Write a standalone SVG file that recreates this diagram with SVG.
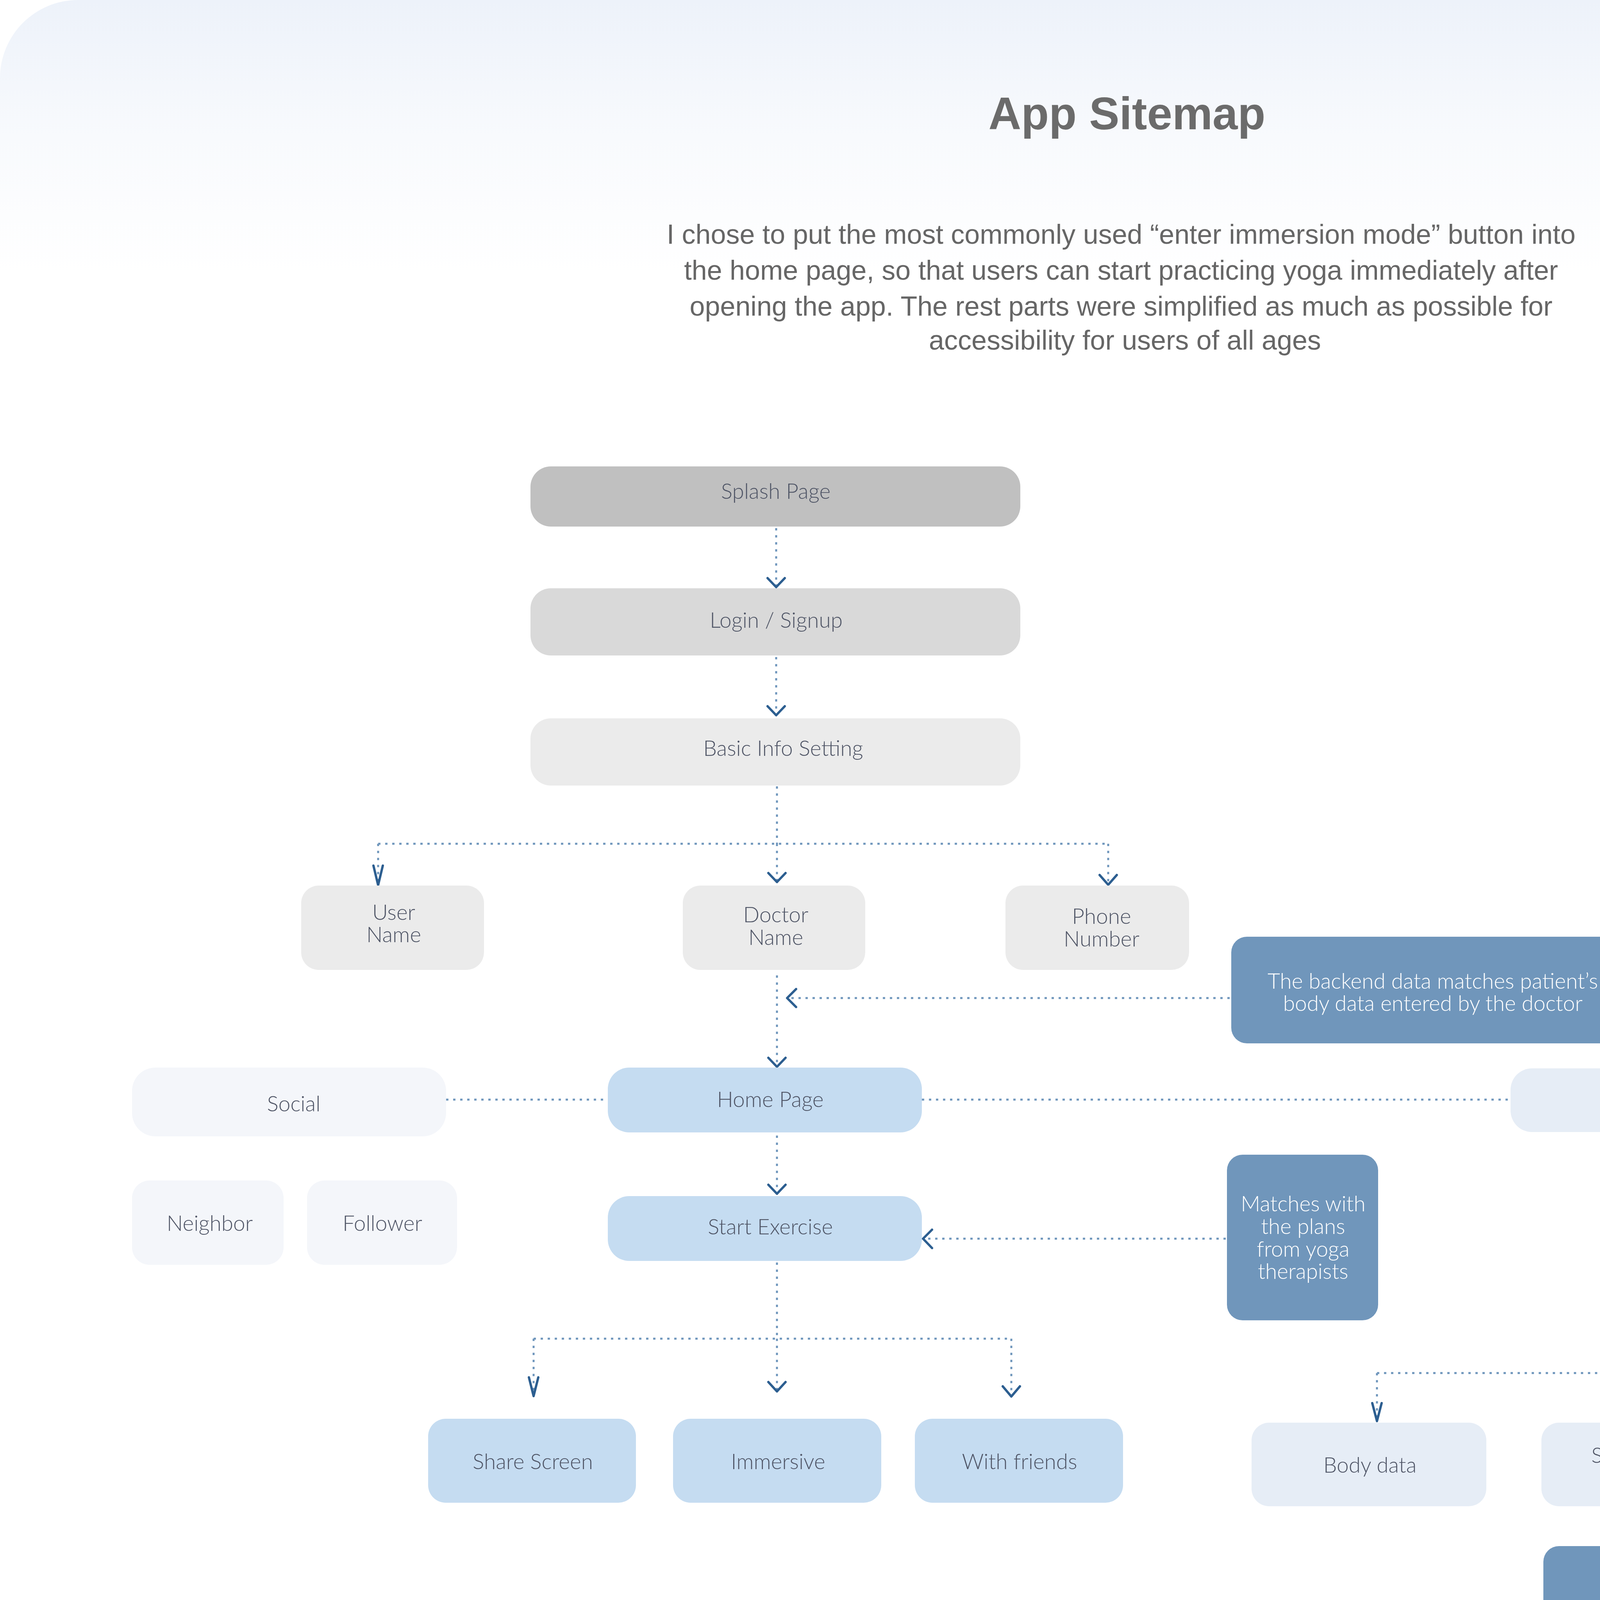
<svg xmlns="http://www.w3.org/2000/svg" width="5760" height="4719" viewBox="0 0 5760 4719">
<defs>
<linearGradient id="bg" x1="0" y1="0" x2="0" y2="700" gradientUnits="userSpaceOnUse">
<stop offset="0" stop-color="#edf2fa"/>
<stop offset="0.5" stop-color="#f8fafd"/>
<stop offset="1" stop-color="#ffffff"/>
</linearGradient>
<style>
.ln{fill:none;stroke:#6f96bc;stroke-width:5;stroke-dasharray:6 12}
.ch{fill:none;stroke:#2c5e90;stroke-width:6;stroke-linecap:round;stroke-linejoin:round}
.t{font-family:Lato,"Open Sans","Noto Sans",sans-serif;font-weight:300;font-size:55px;fill:#4e5465;text-anchor:middle}
.w{fill:#ffffff}
.g1{fill:#c0c0c0}.g2{fill:#d9d9d9}.g3{fill:#ebebeb}
.b1{fill:#c5dcf1}.b2{fill:#e6edf6}.b3{fill:#f4f6fa}.dk{fill:#7096bb}
.title{font-family:"Liberation Sans",Arial,sans-serif;font-weight:bold;font-size:116px;fill:#6b6b6b;text-anchor:middle}
.para{font-family:"Liberation Sans",Arial,sans-serif;font-size:70px;fill:#666666;text-anchor:middle}
</style>
</defs>
<rect x="0" y="0" width="5760" height="4719" fill="#ffffff"/>
<rect x="0" y="0" width="5760" height="4719" rx="200" ry="200" fill="url(#bg)"/>

<g id="header">
<text class="title" x="2885" y="331">App Sitemap</text>
<text class="para" x="2870" y="624">I chose to put the most commonly used “enter immersion mode” button into<tspan x="2870" dy="92">the home page, so that users can start practicing yoga immediately after</tspan><tspan x="2870" dy="92">opening the app. The rest parts were simplified as much as possible for</tspan><tspan x="2880" dy="87">accessibility for users of all ages</tspan></text>
</g>

<g id="connectors">
<path class="ln" d="M1987 1352V1498"/>
<path class="ch" d="M1965 1480L1987 1503L2009 1480"/>
<path class="ln" d="M1987 1682V1826"/>
<path class="ch" d="M1965 1808L1987 1831L2009 1808"/>
<path class="ln" d="M1989 2013V2160M968 2160H2837M968 2160V2262M1989 2160V2254M2837 2160V2261"/>
<path class="ch" d="M956 2216L968 2266L980 2216"/>
<path class="ch" d="M1967 2235L1989 2258L2011 2235"/>
<path class="ch" d="M2815 2240L2837 2265L2859 2240"/>
<path class="ln" d="M1989 2497V2726"/>
<path class="ch" d="M1967 2708L1989 2731L2011 2708"/>
<path class="ln" d="M3148 2555H2024"/>
<path class="ch" d="M2038 2532L2015 2555L2038 2578"/>
<path class="ln" d="M1142 2815H1556M2360 2815H3867"/>
<path class="ln" d="M1989 2907V3053"/>
<path class="ch" d="M1967 3033L1989 3056L2011 3033"/>
<path class="ln" d="M3138 3171H2370"/>
<path class="ch" d="M2386 3148L2363 3171L2386 3195"/>
<path class="ln" d="M1989 3232V3427M1366 3427H2589M1366 3427V3570M1989 3427V3558M2589 3427V3570"/>
<path class="ch" d="M1354 3526L1366 3574L1378 3526"/>
<path class="ch" d="M1967 3538L1989 3562L2011 3538"/>
<path class="ch" d="M2567 3549L2589 3575L2611 3549"/>
<path class="ln" d="M4266 2907V3515M3525 3515H5125M3525 3515V3634M4266 3515V3634M5125 3515V3634"/>
<path class="ch" d="M3513 3592L3525 3638L3537 3592"/>
<path class="ch" d="M4245 3614L4266 3638L4287 3614"/>
<path class="ch" d="M5104 3612L5125 3638L5146 3612"/>
<path class="ln" d="M4276 3866V3943"/>
<path class="ch" d="M4255 3921L4276 3947L4297 3921"/>
<path class="ln" d="M4250 4174V4207M4057 4207H4455M4057 4207V4295M4455 4207V4295"/>
<path class="ch" d="M4044 4251L4057 4299L4070 4251"/>
<path class="ch" d="M4433 4273L4455 4299L4477 4273"/>
<path class="ln" d="M5103 3866V3930M4868 3930H5325M4868 3930V4018M5325 3930V4018"/>
<path class="ch" d="M4855 3980L4868 4022L4881 3980"/>
<path class="ch" d="M5303 3996L5325 4022L5347 3996"/>
</g>

<g id="splash"><rect class="g1" x="1358" y="1194" width="1254" height="154" rx="52"/><text class="t" x="1986" y="1277">Splash Page</text></g>
<g id="login"><rect class="g2" x="1358" y="1506" width="1254" height="172" rx="52"/><text class="t" x="1987" y="1607">Login / Signup</text></g>
<g id="basic-info"><rect class="g3" x="1358" y="1839" width="1254" height="172" rx="52"/><text class="t" x="2005" y="1935">Basic Info Setting</text></g>

<g id="user-name"><rect class="g3" x="771" y="2267" width="468" height="216" rx="45"/><text class="t" x="1008" y="2355">User<tspan x="1008" dy="57">Name</tspan></text></g>
<g id="doctor-name"><rect class="g3" x="1748" y="2267" width="467" height="216" rx="45"/><text class="t" x="1986" y="2361">Doctor<tspan x="1986" dy="58">Name</tspan></text></g>
<g id="phone-number"><rect class="g3" x="2574" y="2267" width="470" height="216" rx="45"/><text class="t" x="2820" y="2365">Phone<tspan x="2820" dy="58">Number</tspan></text></g>

<g id="backend-note"><rect class="dk" x="3152" y="2398" width="1011" height="273" rx="40"/><text class="t w" x="3668" y="2531">The backend data matches patient’s<tspan x="3668" dy="57">body data entered by the doctor</tspan></text></g>

<g id="social"><rect class="b3" x="338" y="2733" width="804" height="176" rx="60"/><text class="t" x="752" y="2845">Social</text></g>
<g id="home-page"><rect class="b1" x="1556" y="2733" width="804" height="166" rx="55"/><text class="t" x="1972" y="2834">Home Page</text></g>
<g id="profile"><rect class="b2" x="3867" y="2735" width="806" height="163" rx="55"/><text class="t" x="4282" y="2832">Profile</text></g>

<g id="neighbor"><rect class="b3" x="338" y="3022" width="388" height="216" rx="45"/><text class="t" x="537" y="3151">Neighbor</text></g>
<g id="follower"><rect class="b3" x="786" y="3022" width="384" height="216" rx="45"/><text class="t" x="979" y="3151">Follower</text></g>
<g id="start-exercise"><rect class="b1" x="1556" y="3062" width="804" height="166" rx="55"/><text class="t" x="1972" y="3160">Start Exercise</text></g>

<g id="matches-note"><rect class="dk" x="3141" y="2956" width="387" height="424" rx="40"/><text class="t w" x="3336" y="3101">Matches with<tspan x="3336" dy="58">the plans</tspan><tspan x="3336" dy="58">from yoga</tspan><tspan x="3336" dy="57">therapists</tspan></text></g>

<g id="share-screen"><rect class="b1" x="1096" y="3632" width="532" height="215" rx="45"/><text class="t" x="1364" y="3761">Share Screen</text></g>
<g id="immersive"><rect class="b1" x="1723" y="3632" width="533" height="215" rx="45"/><text class="t" x="1992" y="3761">Immersive</text></g>
<g id="with-friends"><rect class="b1" x="2342" y="3632" width="533" height="215" rx="45"/><text class="t" x="2610" y="3761">With friends</text></g>

<g id="body-data"><rect class="b2" x="3204" y="3642" width="601" height="214" rx="45"/><text class="t" x="3507" y="3770">Body data</text></g>
<g id="stage-training"><rect class="b2" x="3946" y="3642" width="598" height="214" rx="45"/><text class="t" x="4250" y="3745">Stage trainning<tspan x="4250" dy="58">program</tspan></text></g>
<g id="self-report"><rect class="b2" x="4799" y="3642" width="598" height="214" rx="45"/><text class="t" x="5103" y="3767">Self-report</text></g>

<g id="stage1"><rect class="dk" x="3951" y="3958" width="590" height="214" rx="40"/><text class="t w" x="4250" y="4049">Stage1<tspan x="4250" dy="57">(Sample)</tspan></text></g>
<g id="photo"><rect class="b2" x="4678" y="4038" width="379" height="215" rx="45"/><text class="t" x="4868" y="4167">Photo</text></g>
<g id="stored-data"><rect class="b2" x="5098" y="4038" width="380" height="215" rx="45"/><text class="t" x="5289" y="4141">Stored<tspan x="5289" dy="57">Data</tspan></text></g>
<g id="day-plan"><rect class="dk" x="3847" y="4301" width="383" height="214" rx="45"/><text class="t w" x="4038" y="4431">Day Plan</text></g>
<g id="edit"><rect class="dk" x="4265" y="4301" width="383" height="214" rx="45"/><text class="t w" x="4457" y="4431">Edit</text></g>
</svg>
